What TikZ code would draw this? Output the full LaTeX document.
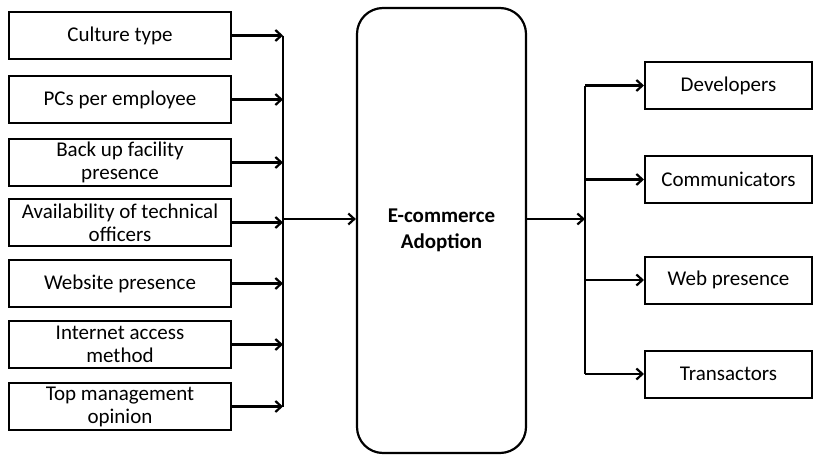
\documentclass[tikz,border=0pt]{standalone}
\usepackage{fontspec}
\setmainfont{Carlito}
\usetikzlibrary{arrows,arrows.meta,positioning}

\begin{document}
\begin{tikzpicture}[x=1pt, y=-1pt, line width=2.2pt, >={Straight Barb[length=6pt,width=11pt]}]
 \tikzset{
factor/.style = {rectangle, draw=black, line width=2pt, minimum width=222pt, minimum height=47pt, inner sep=0pt, align=center, font=\fontsize{21}{23}\selectfont},
category/.style = {rectangle, draw=black, line width=2pt, minimum width=167pt, minimum height=47pt, inner sep=0pt, align=center, font=\fontsize{21}{23}\selectfont},
adoption/.style = {rectangle, rounded corners=26pt, draw=black, line width=2.2pt, minimum width=169pt, minimum height=445pt, inner sep=0pt, align=center, font=\bfseries\fontsize{21}{26}\selectfont}}

    \useasboundingbox (0,0) rectangle (813,455);

    % factors on the left
    \node [factor] (F1) at (120,35.5) {Culture type};
    \node [factor] (F2) at (120,99.5) {PCs per employee};
    \node [factor] (F3) at (120,162.5) {Back up facility\\presence};
    \node [factor] (F4) at (120,222.5) {Availability of technical\\officers};
    \node [factor] (F5) at (120,283.5) {Website presence};
    \node [factor] (F6) at (120,344.5) {Internet access\\method};
    \node [factor] (F7) at (120,406.5) {Top management\\opinion};

    \node [adoption] (EA) at (441.5,230.5) {E-commerce\\Adoption};

    % adopter categories on the right
    \node [category] (C1) at (728.5,85.5) {Developers};
    \node [category] (C2) at (728.5,179.5) {Communicators};
    \node [category] (C3) at (728.5,280) {Web presence};
    \node [category] (C4) at (728.5,374) {Transactors};

    \coordinate (inbus) at (283,219);
    \coordinate (outbus) at (585,219);

    \draw (F1.east -| inbus) -- (F7.east -| inbus);
    \foreach \f in {F1,F2,F3,F4,F5,F6,F7}
      \draw [->] (\f.east) -- (\f.east -| inbus);
    \draw [->] (inbus) -- (inbus -| EA.west);

    \draw [->] (inbus -| EA.east) -- (outbus);
    \draw (C1.west -| outbus) -- (C4.west -| outbus);
    \foreach \c in {C1,C2,C3,C4}
      \draw [->] (\c.west -| outbus) -- (\c.west);

\end{tikzpicture}
\end{document}
